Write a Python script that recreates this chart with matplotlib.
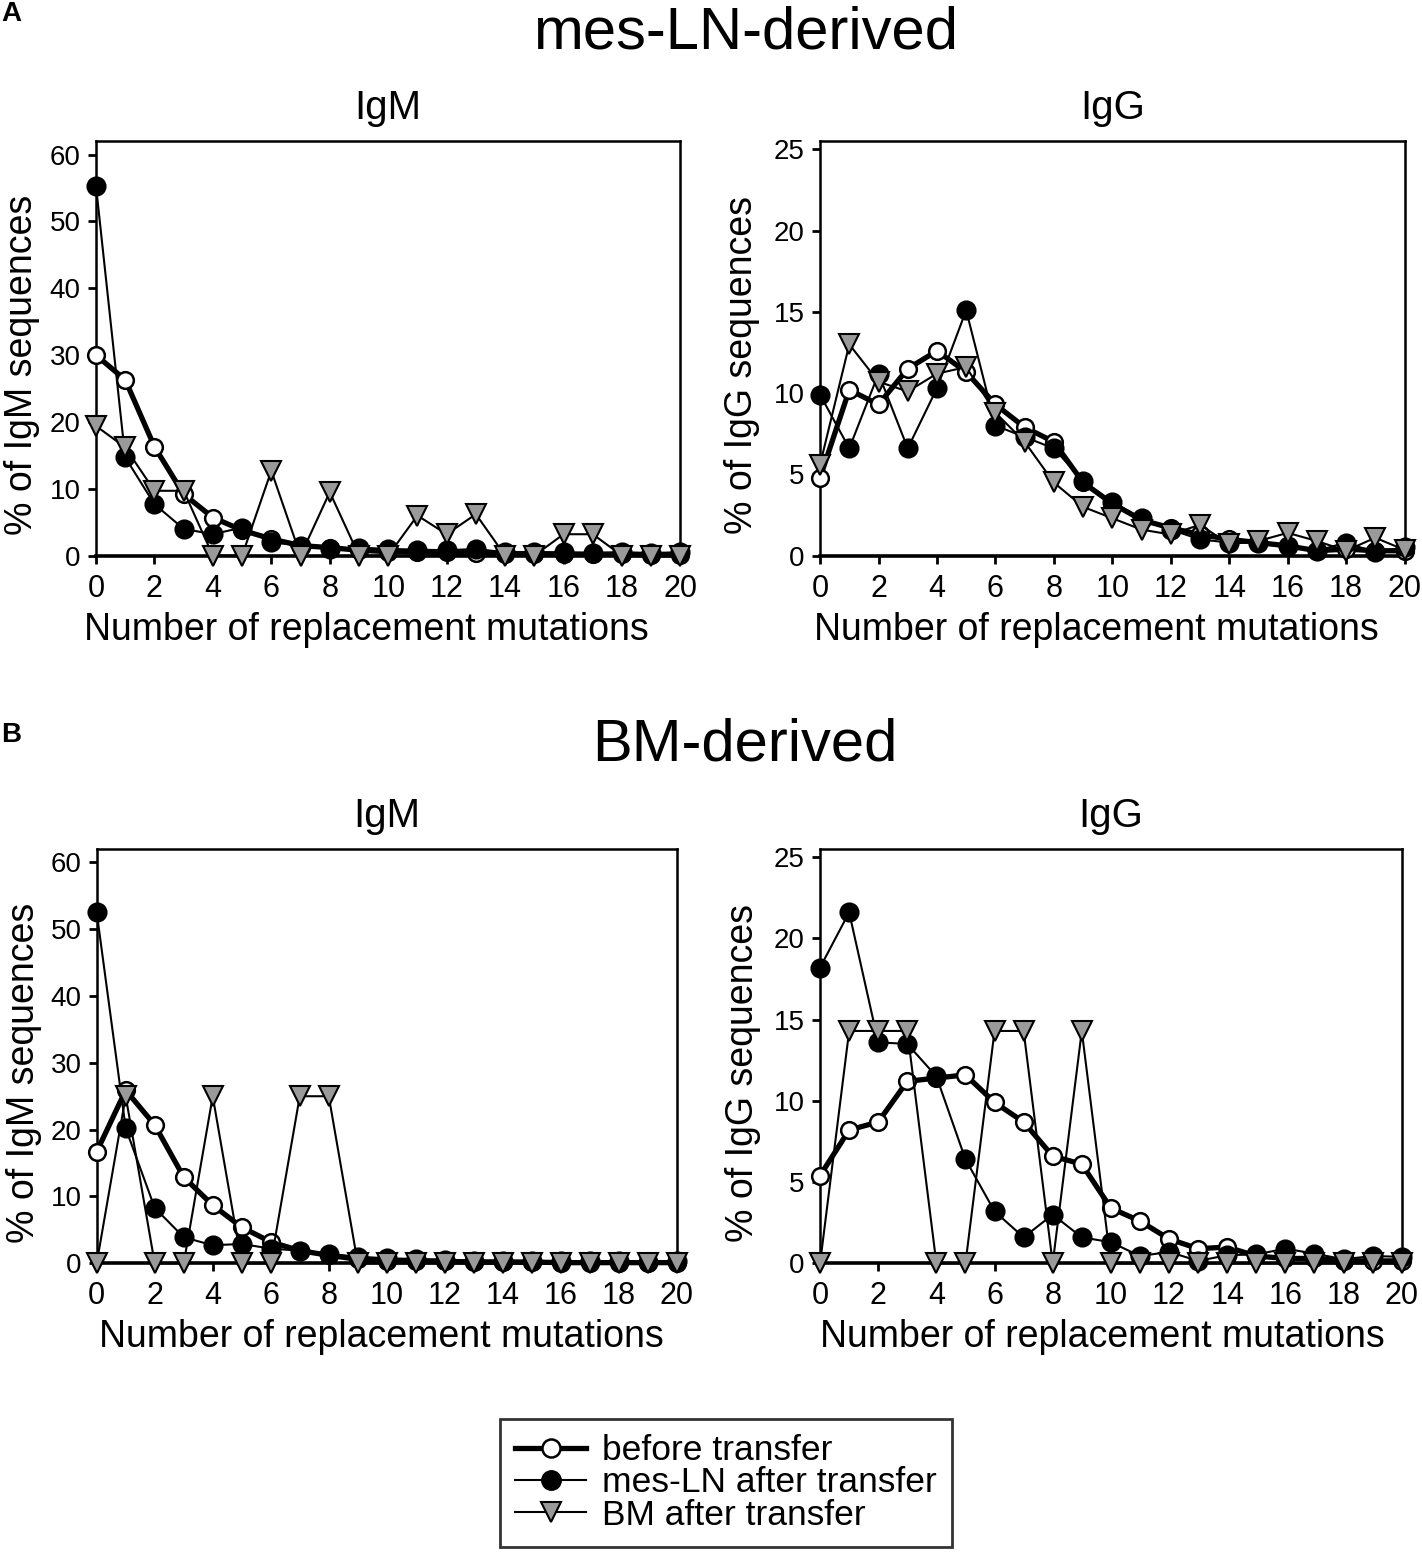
import matplotlib
matplotlib.use("Agg")
import matplotlib.pyplot as plt
from matplotlib.lines import Line2D

plt.rcParams["font.family"] = ["Liberation Sans", "DejaVu Sans"]

mutations = list(range(21))

# panel A: mes-LN-derived
a_igm_before = [30.0, 26.3, 16.3, 9.2, 5.7, 3.8, 2.5, 1.5, 1.2, 0.8, 0.6,
                0.5, 0.5, 0.4, 0.3, 0.3, 0.2, 0.2, 0.2, 0.1, 0.1]
a_igm_mesln = [55.3, 14.7, 7.7, 4.0, 3.2, 4.2, 2.0, 1.5, 1.0, 1.2, 1.0,
               0.9, 0.8, 1.0, 0.5, 0.5, 0.5, 0.4, 0.5, 0.4, 0.5]
a_igm_bm = [19.4, 16.2, 9.7, 9.7, 0, 0, 12.7, 0, 9.5, 0, 0,
            6.0, 3.2, 6.2, 0, 0, 3.2, 3.2, 0, 0, 0]

a_igg_before = [4.8, 10.2, 9.3, 11.5, 12.6, 11.3, 9.3, 7.9, 7.0, 4.5, 3.2,
                2.2, 1.7, 1.3, 1.0, 0.8, 0.6, 0.3, 0.4, 0.3, 0.3]
a_igg_mesln = [9.9, 6.6, 11.2, 6.6, 10.3, 15.1, 8.0, 7.3, 6.6, 4.6, 3.3,
               2.3, 1.6, 1.0, 0.8, 0.8, 0.6, 0.3, 0.8, 0.2, 0.5]
a_igg_bm = [5.6, 13.0, 10.7, 10.1, 11.2, 11.6, 8.8, 7.0, 4.5, 3.0, 2.3,
            1.6, 1.3, 1.9, 0.7, 0.9, 1.4, 0.9, 0.3, 1.1, 0.35]

# panel B: BM-derived
b_igm_before = [16.7, 25.9, 20.7, 12.9, 8.7, 5.4, 3.2, 1.9, 1.2, 0.6, 0.4,
                0.3, 0.3, 0.2, 0.2, 0.2, 0.1, 0.1, 0.1, 0.1, 0.1]
b_igm_mesln = [52.5, 20.2, 8.3, 3.9, 2.7, 2.9, 2.2, 1.9, 1.4, 1.0, 0.75,
               0.65, 0.55, 0.4, 0.4, 0.3, 0.3, 0.3, 0.3, 0.2, 0.3]
b_igm_bm = [0, 25, 0, 0, 25, 0, 0, 25, 25, 0, 0,
            0, 0, 0, 0, 0, 0, 0, 0, 0, 0]

b_igg_before = [5.4, 8.2, 8.7, 11.2, 11.4, 11.6, 9.9, 8.7, 6.6, 6.1, 3.4,
                2.6, 1.5, 0.9, 1.0, 0.45, 0.3, 0.3, 0.15, 0.15, 0.15]
b_igg_mesln = [18.2, 21.6, 13.6, 13.5, 11.5, 6.4, 3.2, 1.6, 3.0, 1.6, 1.3,
               0.45, 0.7, 0.15, 0.5, 0.55, 0.9, 0.6, 0.25, 0.45, 0.4]
b_igg_bm = [0, 14.3, 14.3, 14.3, 0, 0, 14.3, 14.3, 0, 14.3, 0,
            0, 0, 0, 0, 0, 0, 0, 0, 0, 0]

series_labels = ["before transfer", "mes-LN after transfer", "BM after transfer"]
gray = "#9a9a9a"

fig = plt.figure(figsize=(14.22, 15.52), dpi=100)

ax_h = 0.267
panels = [
    ([0.0675, 0.642, 0.411, ax_h], "IgM", "% of IgM sequences", 62, [0, 10, 20, 30, 40, 50, 60],
     0.462, -0.095, a_igm_before, a_igm_mesln, a_igm_bm),
    ([0.5767, 0.642, 0.411, ax_h], "IgG", "% of IgG sequences", 25.5, [0, 5, 10, 15, 20, 25],
     0.473, -0.102, a_igg_before, a_igg_mesln, a_igg_bm),
    ([0.0680, 0.186, 0.408, ax_h], "IgM", "% of IgM sequences", 62, [0, 10, 20, 30, 40, 50, 60],
     0.491, -0.095, b_igm_before, b_igm_mesln, b_igm_bm),
    ([0.5767, 0.186, 0.409, ax_h], "IgG", "% of IgG sequences", 25.5, [0, 5, 10, 15, 20, 25],
     0.486, -0.102, b_igg_before, b_igg_mesln, b_igg_bm),
]

for rect, title, ylabel, ytop, yticks, xlab_x, ylab_x, before, mesln, bm in panels:
    ax = fig.add_axes(rect)
    ax.plot(mutations, before, color="black", lw=3.8, marker="o", ms=12,
            mfc="white", mec="black", mew=1.8, clip_on=False, zorder=3)
    ax.plot(mutations, mesln, color="black", lw=1.5, marker="o", ms=13,
            mfc="black", mec="black", mew=1.5, clip_on=False, zorder=4)
    ax.plot(mutations, bm, color="black", lw=1.5, marker="v", ms=14,
            mfc=gray, mec="black", mew=1.5, clip_on=False, zorder=5)

    ax.set_xlim(0, 20)
    ax.set_ylim(0, ytop)
    ax.set_xticks(range(0, 21, 2))
    ax.set_yticks(yticks)
    for sp in ax.spines.values():
        sp.set_linewidth(1.8)
    ax.spines["bottom"].set_linewidth(2.6)
    ax.tick_params(direction="out", length=6, width=2, pad=7)
    ax.tick_params(axis="x", labelsize=22)
    ax.tick_params(axis="y", labelsize=20, pad=5)
    ax.set_title(title, fontsize=29, pad=16)
    ax.set_ylabel(ylabel, fontsize=27)
    ax.yaxis.set_label_coords(ylab_x, 0.46)
    ax.set_xlabel("Number of replacement mutations", fontsize=27)
    ax.xaxis.set_label_coords(xlab_x, -0.135)

fig.text(0.524, 0.979, "mes-LN-derived", fontsize=43, ha="center", va="center")
fig.text(0.524, 0.520, "BM-derived", fontsize=43, ha="center", va="center")
fig.text(0.001, 0.9913, "A", fontsize=20, fontweight="bold", ha="left", va="center")
fig.text(0.001, 0.5265, "B", fontsize=20, fontweight="bold", ha="left", va="center")

handles = [
    Line2D([], [], color="black", lw=3.8, marker="o", ms=13, mfc="white", mec="black", mew=1.8),
    Line2D([], [], color="black", lw=1.5, marker="o", ms=14, mfc="black", mec="black"),
    Line2D([], [], color="black", lw=1.5, marker="v", ms=15, mfc=gray, mec="black", mew=1.5),
]
leg = fig.legend(handles, series_labels, loc="center", bbox_to_anchor=(0.5105, 0.0445),
                 fontsize=25.5, frameon=True, fancybox=False, edgecolor="black",
                 handlelength=2.0, handletextpad=0.45, labelspacing=-0.02,
                 borderpad=0.42, borderaxespad=0)
leg.get_frame().set_linewidth(2)

fig.savefig("out.png", dpi=100, facecolor="white")
